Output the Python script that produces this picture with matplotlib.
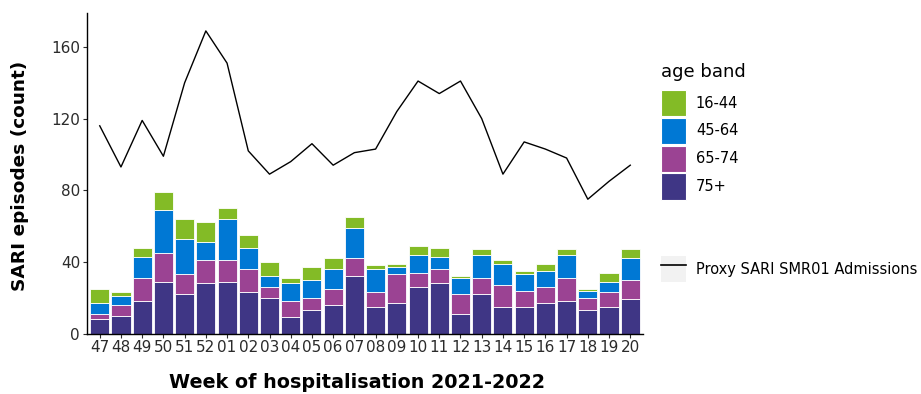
import matplotlib
matplotlib.use('Agg')
import matplotlib.pyplot as plt
import numpy as np
from matplotlib.patches import Patch
from matplotlib.lines import Line2D

weeks = ['47', '48', '49', '50', '51', '52', '01', '02', '03', '04', '05', '06', '07', '08',
         '09', '10', '11', '12', '13', '14', '15', '16', '17', '18', '19', '20']

age_75plus = [8, 10, 18, 29, 22, 28, 29, 23, 20, 9, 13, 16, 32, 15, 17, 26, 28, 11, 22, 15, 15, 17, 18, 13, 15, 19]
age_65_74 = [3, 6, 13, 16, 11, 13, 12, 13, 6, 9, 7, 9, 10, 8, 16, 8, 8, 11, 9, 12, 9, 9, 13, 7, 8, 11]
age_45_64 = [6, 5, 12, 24, 20, 10, 23, 12, 6, 10, 10, 11, 17, 13, 4, 10, 7, 9, 13, 12, 9, 9, 13, 4, 6, 12]
age_16_44 = [8, 2, 5, 10, 11, 11, 6, 7, 8, 3, 7, 6, 6, 2, 2, 5, 5, 1, 3, 2, 2, 4, 3, 1, 5, 5]
proxy_smr01 = [116, 93, 119, 99, 140, 169, 151, 102, 89, 96, 106, 94, 101, 103, 124, 141, 134, 141,
               120, 89, 107, 103, 98, 75, 85, 94]

bands = ['75+', '65-74', '45-64', '16-44']
series = [age_75plus, age_65_74, age_45_64, age_16_44]
colours = ['#3F3685', '#9B4393', '#0078D4', '#83BB26']

fig = plt.figure(figsize=(9.21, 3.94), dpi=100)
ax = fig.add_axes([87 / 921, 1 - 333.5 / 394, (643 - 87) / 921, (333.5 - 13) / 394])

x = np.arange(len(weeks))
bottom = np.zeros(len(weeks))
for vals, col in zip(series, colours):
    ax.bar(x, vals, bottom=bottom, width=0.9, color=col, edgecolor='white', linewidth=0.6)
    bottom += np.array(vals)

ax.plot(x, proxy_smr01, color='black', linewidth=1.0)

ax.set_xlim(-0.6, len(weeks) - 0.4)
ax.set_ylim(0, 179)
ax.set_yticks([0, 40, 80, 120, 160])
ax.set_xticks(x)
ax.set_xticklabels(weeks)
ax.tick_params(axis='both', labelsize=11, colors='#2b2b2b', length=3, pad=2)
for s in ['top', 'right']:
    ax.spines[s].set_visible(False)
for s in ['left', 'bottom']:
    ax.spines[s].set_linewidth(1.0)
    ax.spines[s].set_color('black')

fig.text(20 / 921, 1 - 176 / 394, 'SARI episodes (count)', rotation=90, ha='center', va='center',
         fontsize=13.3, fontweight='bold')
fig.text(357 / 921, 1 - 383 / 394, 'Week of hospitalisation 2021-2022', ha='center', va='center',
         fontsize=13.8, fontweight='bold')

# legend title as plain text so the gap to the keys can be set
fig.text(661 / 921, 1 - 72 / 394, 'age band', ha='left', va='center', fontsize=13)

handles = [Patch(facecolor=c, edgecolor='white', linewidth=0.8) for c in colours[::-1]]
leg1 = fig.legend(handles, bands[::-1], loc='upper left',
                  bbox_to_anchor=(661 / 921, 1 - 90 / 394), frameon=False, fontsize=10.5,
                  handlelength=1.72, handleheight=2.4, labelspacing=0.1,
                  handletextpad=0.67, borderpad=0, borderaxespad=0)

line_handle = (Patch(facecolor='#F2F2F2', edgecolor='none'), Line2D([], [], color='black', linewidth=1.2))
leg2 = fig.legend([line_handle], ['Proxy SARI SMR01 Admissions'], loc='upper left',
                  bbox_to_anchor=(661 / 921, 1 - 256 / 394), frameon=False, fontsize=10.5,
                  handlelength=1.72, handleheight=2.4, handletextpad=0.67,
                  borderpad=0, borderaxespad=0)

fig.savefig('out.png', dpi=100)
